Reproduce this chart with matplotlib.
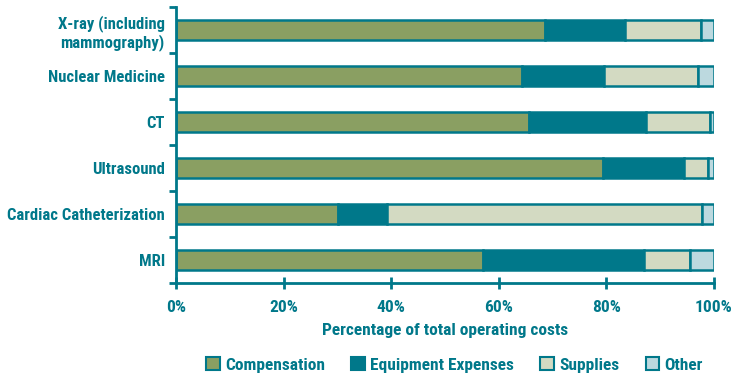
import matplotlib.pyplot as plt
import numpy as np
from matplotlib.patches import Patch

# cost breakdown per imaging modality (percent of total operating costs)
modalities = ["X-ray (including\nmammography)", "Nuclear Medicine", "CT",
              "Ultrasound", "Cardiac Catheterization", "MRI"]
compensation = [68.6, 64.4, 65.7, 79.3, 30.2, 57.0]
equipment = [14.8, 15.2, 21.7, 15.2, 9.0, 30.0]
supplies = [14.2, 17.5, 11.9, 4.3, 58.5, 8.5]
other = [2.4, 2.9, 0.7, 1.2, 2.3, 4.5]

series = ["Compensation", "Equipment Expenses", "Supplies", "Other"]
colors = ["#8a9f62", "#00788a", "#d3dac2", "#bcd9df"]
teal = "#00788a"

plt.rcParams['font.family'] = ['Roboto Condensed', 'Asap Condensed', 'DejaVu Sans']
plt.rcParams['font.weight'] = 'bold'

fig = plt.figure(figsize=(7.32, 3.79), dpi=100)
ax = fig.add_axes([0.2404, 0.2533, 0.735, 0.728])

y = np.arange(len(modalities))[::-1]
left = np.zeros(len(modalities))
for vals, col in zip([compensation, equipment, supplies, other], colors):
    ax.barh(y, vals, left=left, height=0.45, color=col,
            edgecolor=teal, linewidth=1.8)
    left += np.array(vals)

ax.set_xlim(0, 100)
ax.set_ylim(-0.5, len(modalities) - 0.5)

ax.set_xticks(np.arange(0, 101, 20))
ax.set_xticklabels([f"{v}%" for v in range(0, 101, 20)])
ax.set_yticks(y)
ax.set_yticklabels(modalities, ha='right', linespacing=1.15)
ax.set_yticks(np.arange(-0.5, len(modalities), 1.0), minor=True)

ax.tick_params(axis='y', which='major', length=0, pad=8,
               labelsize=12, labelcolor=teal)
ax.tick_params(axis='y', which='minor', length=5, width=2, color=teal,
               direction='out')
ax.tick_params(axis='x', length=8, width=2, color=teal, direction='inout',
               pad=8, labelsize=12.5, labelcolor=teal)

for s in ['top', 'right']:
    ax.spines[s].set_visible(False)
for s in ['left', 'bottom']:
    ax.spines[s].set_color(teal)
    ax.spines[s].set_linewidth(2)

ax.set_xlabel("Percentage of total operating costs", color=teal,
              fontsize=12.5, fontweight='bold', labelpad=6)

handles = [Patch(facecolor=c, edgecolor=teal, linewidth=1.5) for c in colors]
fig.legend(handles, series, loc='center', bbox_to_anchor=(0.621, 0.037),
           ncol=4, frameon=False, fontsize=12.5, labelcolor=teal,
           handlelength=0.8, handleheight=0.8, handletextpad=0.3,
           columnspacing=1.5)

fig.savefig("out.png", dpi=100)
